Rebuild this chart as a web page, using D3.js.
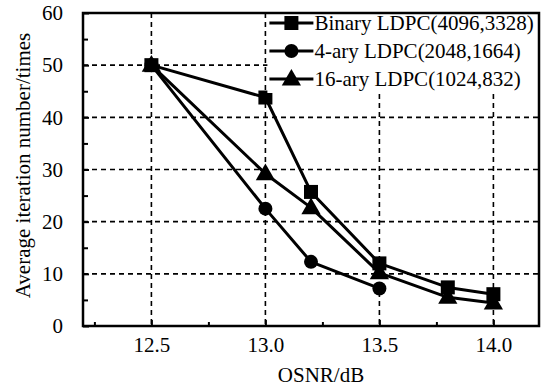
<!DOCTYPE html>
<html>
<head>
<meta charset="utf-8">
<script src="https://cdn.jsdelivr.net/npm/d3@7"></script>
<style>
  body { margin: 0; background: #fff; }
  svg { display: block; }
  text { font-family: "Liberation Serif", "Times New Roman", serif; fill: #000; }
</style>
</head>
<body>
<figure id="chart" style="margin:0"></figure>
<script>
// chart data
const seriesNames = ["Binary LDPC(4096,3328)", "4-ary LDPC(2048,1664)", "16-ary LDPC(1024,832)"];
const markers = ["square", "circle", "triangle"];
const binaryX = [12.5, 13.0, 13.2, 13.5, 13.8, 14.0];
const binaryY = [50, 43.8, 25.7, 12.0, 7.4, 6.1];
const quaternaryX = [12.5, 13.0, 13.2, 13.5];
const quaternaryY = [50, 22.5, 12.3, 7.2];
const hexX = [12.5, 13.0, 13.2, 13.5, 13.8, 14.0];
const hexY = [50, 29.2, 22.7, 10.2, 5.5, 4.4];
const xTicks = [12.5, 13.0, 13.5, 14.0];
const xMinorTicks = [12.25, 12.75, 13.25, 13.75];
const yTicks = [0, 10, 20, 30, 40, 50, 60];
const yMinorTicks = [5, 15, 25, 35, 45, 55];

const series = [
  { name: seriesNames[0], marker: markers[0], xs: binaryX, ys: binaryY },
  { name: seriesNames[1], marker: markers[1], xs: quaternaryX, ys: quaternaryY },
  { name: seriesNames[2], marker: markers[2], xs: hexX, ys: hexY }
];

const W = 552, H = 389;
const margin = { top: 13, right: 13, bottom: 63, left: 83 };
const width = W - margin.left - margin.right;
const height = H - margin.top - margin.bottom;

const svg = d3.select("#chart").append("svg")
  .attr("width", W)
  .attr("height", H);

const g = svg.append("g")
  .attr("transform", "translate(" + margin.left + "," + margin.top + ")");

const x = d3.scaleLinear().domain([12.2, 14.2]).range([0, width]);
const y = d3.scaleLinear().domain([0, 60]).range([height, 0]);

// dashed grid
g.append("g").selectAll("line")
  .data(xTicks)
  .enter().append("line")
  .attr("x1", d => x(d)).attr("x2", d => x(d))
  .attr("y1", 0).attr("y2", height)
  .attr("stroke", "#000").attr("stroke-width", 1.6)
  .attr("stroke-dasharray", "5,4");

g.append("g").selectAll("line")
  .data(yTicks.filter(d => d > 0 && d < 60))
  .enter().append("line")
  .attr("x1", 0).attr("x2", width)
  .attr("y1", d => y(d)).attr("y2", d => y(d))
  .attr("stroke", "#000").attr("stroke-width", 1.6)
  .attr("stroke-dasharray", "5,4");

// axes with inward ticks
const xAxis = g.append("g")
  .attr("transform", "translate(0," + height + ")")
  .call(d3.axisBottom(x).tickValues(xTicks).tickSize(-6).tickPadding(11)
    .tickFormat(d3.format(".1f")));
xAxis.select(".domain").remove();
xAxis.selectAll("text").style("font-size", "21px");
xAxis.selectAll("line").attr("stroke-width", 2);

const xMinor = g.append("g")
  .attr("transform", "translate(0," + height + ")")
  .call(d3.axisBottom(x).tickValues(xMinorTicks).tickSize(-4).tickFormat(""));
xMinor.select(".domain").remove();
xMinor.selectAll("line").attr("stroke-width", 2);

const yAxis = g.append("g")
  .call(d3.axisLeft(y).tickValues(yTicks).tickSize(-6).tickPadding(20));
yAxis.select(".domain").remove();
yAxis.selectAll("text").style("font-size", "21px");
yAxis.selectAll("line").attr("stroke-width", 2);

const yMinor = g.append("g")
  .call(d3.axisLeft(y).tickValues(yMinorTicks).tickSize(-5).tickFormat(""));
yMinor.select(".domain").remove();
yMinor.selectAll("line").attr("stroke-width", 2);

// series lines
const line = d3.line().x(d => x(d[0])).y(d => y(d[1]));

function drawMarker(sel, type, cx, cy) {
  if (type === "square") {
    sel.append("rect")
      .attr("x", cx - 7).attr("y", cy - 7)
      .attr("width", 14).attr("height", 14)
      .attr("fill", "#000");
  } else if (type === "circle") {
    sel.append("circle")
      .attr("cx", cx).attr("cy", cy).attr("r", 7)
      .attr("fill", "#000");
  } else {
    sel.append("path")
      .attr("d", d3.symbol(d3.symbolTriangle, 160)())
      .attr("transform", "translate(" + cx + "," + (cy + 1) + ")")
      .attr("fill", "#000");
  }
}

series.forEach(s => {
  const pts = s.xs.map((v, i) => [v, s.ys[i]]);
  g.append("path")
    .datum(pts)
    .attr("d", line)
    .attr("fill", "none")
    .attr("stroke", "#000")
    .attr("stroke-width", 3)
    .attr("stroke-linejoin", "round");
  const mg = g.append("g");
  pts.forEach(p => drawMarker(mg, s.marker, x(p[0]), y(p[1])));
});

// legend
const legX = x(13.0) + 2;
const leg = g.append("g");
leg.append("rect")
  .attr("x", legX).attr("y", 0)
  .attr("width", width - legX).attr("height", 80)
  .attr("fill", "#fff");
series.forEach((s, i) => {
  const ly = 10 + i * 28;
  leg.append("line")
    .attr("x1", legX + 2).attr("x2", legX + 46)
    .attr("y1", ly).attr("y2", ly)
    .attr("stroke", "#000").attr("stroke-width", 3);
  drawMarker(leg, s.marker, legX + 24, ly);
  leg.append("text")
    .attr("x", legX + 47).attr("y", ly)
    .attr("dy", "0.35em")
    .style("font-size", "21px")
    .text(s.name);
});

// frame
g.append("rect")
  .attr("x", 0).attr("y", 0)
  .attr("width", width).attr("height", height)
  .attr("fill", "none")
  .attr("stroke", "#000")
  .attr("stroke-width", 2.5);

// axis titles
svg.append("text")
  .attr("x", margin.left + width / 2 + 10)
  .attr("y", H - 7)
  .attr("text-anchor", "middle")
  .style("font-size", "21px")
  .text("OSNR/dB");

svg.append("text")
  .attr("transform", "translate(30," + (margin.top + height / 2 - 4) + ") rotate(-90)")
  .attr("text-anchor", "middle")
  .style("font-size", "21px")
  .text("Average iteration number/times");
</script>
</body>
</html>
